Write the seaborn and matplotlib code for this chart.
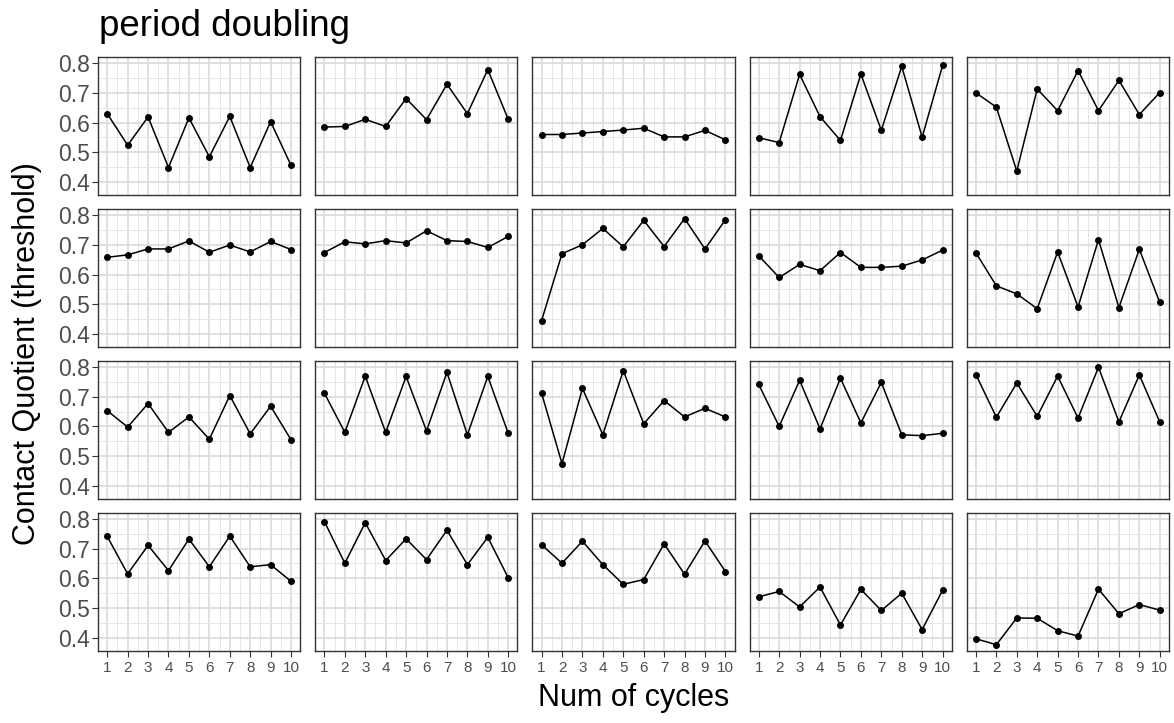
import matplotlib
matplotlib.use("Agg")
import matplotlib.pyplot as plt
import numpy as np
import pandas as pd
import seaborn as sns

# Contact quotient threshold per cycle, one list per speaker
cycles = list(range(1, 11))
p01 = [0.630, 0.524, 0.619, 0.449, 0.616, 0.485, 0.621, 0.449, 0.603, 0.456]
p02 = [0.585, 0.587, 0.611, 0.587, 0.681, 0.610, 0.729, 0.630, 0.778, 0.611]
p03 = [0.560, 0.560, 0.565, 0.570, 0.575, 0.581, 0.552, 0.552, 0.574, 0.542]
p04 = [0.549, 0.533, 0.762, 0.620, 0.540, 0.763, 0.574, 0.789, 0.551, 0.792]
p05 = [0.700, 0.652, 0.437, 0.713, 0.640, 0.775, 0.640, 0.742, 0.627, 0.701]
p06 = [0.658, 0.666, 0.686, 0.686, 0.713, 0.675, 0.699, 0.676, 0.711, 0.684]
p07 = [0.674, 0.710, 0.703, 0.714, 0.706, 0.747, 0.714, 0.711, 0.691, 0.728]
p08 = [0.445, 0.670, 0.700, 0.755, 0.693, 0.782, 0.694, 0.788, 0.686, 0.784]
p09 = [0.663, 0.590, 0.634, 0.613, 0.674, 0.624, 0.624, 0.628, 0.649, 0.682]
p10 = [0.673, 0.562, 0.535, 0.485, 0.676, 0.491, 0.717, 0.489, 0.685, 0.506]
p11 = [0.653, 0.598, 0.677, 0.580, 0.632, 0.557, 0.704, 0.575, 0.668, 0.555]
p12 = [0.712, 0.580, 0.769, 0.580, 0.768, 0.585, 0.782, 0.572, 0.768, 0.577]
p13 = [0.712, 0.475, 0.728, 0.572, 0.788, 0.609, 0.687, 0.632, 0.661, 0.632]
p14 = [0.741, 0.600, 0.755, 0.592, 0.762, 0.612, 0.748, 0.572, 0.569, 0.577]
p15 = [0.774, 0.631, 0.746, 0.634, 0.769, 0.628, 0.799, 0.615, 0.773, 0.615]
p16 = [0.741, 0.615, 0.711, 0.626, 0.732, 0.639, 0.742, 0.639, 0.646, 0.590]
p17 = [0.791, 0.651, 0.787, 0.660, 0.733, 0.663, 0.762, 0.646, 0.738, 0.602]
p18 = [0.713, 0.651, 0.725, 0.646, 0.580, 0.596, 0.716, 0.614, 0.726, 0.623]
p19 = [0.538, 0.556, 0.504, 0.571, 0.443, 0.563, 0.492, 0.550, 0.428, 0.560]
p20 = [0.397, 0.377, 0.467, 0.466, 0.424, 0.406, 0.564, 0.481, 0.512, 0.493]

speakers = [p01, p02, p03, p04, p05, p06, p07, p08, p09, p10,
            p11, p12, p13, p14, p15, p16, p17, p18, p19, p20]
y_ticks = [0.4, 0.5, 0.6, 0.7, 0.8]
title = "period doubling"
x_label = "Num of cycles"
y_label = "Contact Quotient (threshold)"

rows = []
for i, vals in enumerate(speakers):
    for c, v in zip(cycles, vals):
        rows.append({"speaker": i + 1, "cycle": c, "cq": v})
df = pd.DataFrame(rows)

sns.set_theme(style="white")
plt.rcParams["font.family"] = ["Liberation Sans", "DejaVu Sans"]

g = sns.FacetGrid(df, col="speaker", col_wrap=5, sharex=True, sharey=True,
                  despine=False, height=2, aspect=1.4)
g.map_dataframe(sns.lineplot, x="cycle", y="cq", estimator=None,
                color="black", linewidth=1.1, marker="o", markersize=5,
                markeredgewidth=0)

fig = g.figure
fig.set_size_inches(11.74, 7.23)
fig.set_dpi(100)
fig.subplots_adjust(left=0.0835, right=0.9957, top=0.921, bottom=0.0996,
                    wspace=0.074, hspace=0.10)

# ggplot-style expansion of the shared scales
vmin, vmax = df["cq"].min(), df["cq"].max()
pad = 0.05 * (vmax - vmin)
xpad = 0.05 * (max(cycles) - min(cycles))

for k, ax in enumerate(g.axes.flat):
    ax.set_title("")
    ax.set_xlabel("")
    ax.set_ylabel("")
    ax.set_xlim(min(cycles) - xpad, max(cycles) + xpad)
    ax.set_ylim(vmin - pad, vmax + pad)
    ax.set_xticks(cycles)
    ax.set_xticks([c + 0.5 for c in cycles[:-1]], minor=True)
    ax.set_yticks(y_ticks)
    ax.set_yticks([t + 0.05 for t in y_ticks[:-1]], minor=True)
    ax.grid(which="major", color="#DADADA", linewidth=1.2)
    ax.grid(which="minor", color="#E6E6E6", linewidth=0.7)
    ax.set_axisbelow(True)
    for s in ax.spines.values():
        s.set_color("#333333")
        s.set_linewidth(1.0)
    row, col = divmod(k, 5)
    ax.tick_params(which="minor", length=0)
    ax.tick_params(axis="y", which="major", left=(col == 0), length=4,
                   width=0.8, color="#333333", labelsize=16.5,
                   labelcolor="#4D4D4D", pad=2, labelleft=(col == 0))
    ax.tick_params(axis="x", which="major", bottom=(row == 3), length=4,
                   width=0.8, color="#333333", labelsize=11,
                   labelcolor="#4D4D4D", pad=3, labelbottom=(row == 3))
    ax.yaxis.set_major_formatter(matplotlib.ticker.FormatStrFormatter("%.1f"))

fig.text(99 / 1174, 1 - 36 / 723, title, fontsize=26.5, ha="left",
         va="baseline", color="black")
fig.text((0.0835 + 0.9957) / 2, 1 - 706 / 723, x_label, fontsize=22,
         ha="center", va="baseline", color="black")
fig.text(27 / 1174, (0.921 + 0.0996) / 2, y_label, fontsize=22,
         rotation=90, ha="center", va="center", color="black")

fig.savefig("out.png", dpi=100)
